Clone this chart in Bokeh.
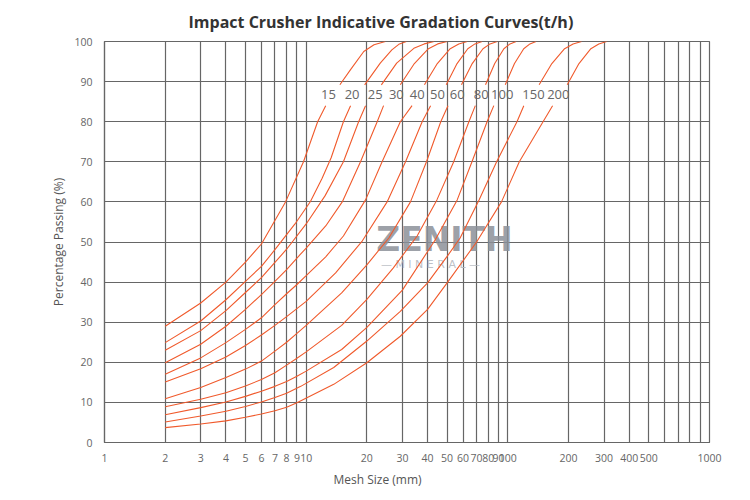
from bokeh.plotting import figure
from bokeh.models import FixedTicker, Title, Range1d, ColumnDataSource
from bokeh.embed import file_html
from bokeh.resources import INLINE
from bokeh.core.properties import value

# ---------------- data ----------------
title_text = "Impact Crusher Indicative Gradation Curves(t/h)"
x_title = "Mesh Size (mm)"
y_title = "Percentage Passing (%)"

x_ticks = [1, 2, 3, 4, 5, 6, 7, 8, 9, 10, 20, 30, 40, 50, 60, 70, 80, 90, 100,
           200, 300, 400, 500, 600, 700, 800, 900, 1000]
x_unlabeled = [600, 700, 800, 900]
y_ticks = [0, 10, 20, 30, 40, 50, 60, 70, 80, 90, 100]

# curve names (capacity, t/h) and where each name sits in the label row
curve_names = ["15", "20", "25", "30", "40", "50", "60", "80", "100", "150", "200"]
label_mm = [12.9, 16.9, 22.0, 28.0, 35.5, 44.8, 56.1, 73.8, 93.8, 134, 178]
label_level = 86.7

x_15 = [2, 3, 4, 5, 6, 7.9, 9.7, 11.4, 12.5, 14.7, 16.6, 19.3, 21.7, 24.7]
y_15 = [29.0, 34.8, 40.0, 45.0, 49.5, 60, 70, 80, 84, 89.2, 93.0, 97.5, 99.2, 100]

x_20 = [2, 3, 4, 5, 6, 7, 8.8, 10.5, 12.0, 13.3, 15.3, 16.6, 19.5, 23.3, 26.6, 28.8, 31.4]
y_20 = [24.9, 30.3, 35.6, 40.2, 43.9, 48.1, 54.5, 60.1, 65.9, 71.0, 80, 84, 89.2, 94.6, 97.9, 99.3, 100]

x_25 = [2, 3, 4, 5, 6, 7, 8, 10, 12.4, 15.3, 18.2, 19.7, 23.6, 28.1, 34.2, 38.5, 43.1]
y_25 = [23.0, 27.9, 32.9, 37.4, 41.1, 44.9, 48.2, 54.5, 61.5, 70, 80, 84, 89.2, 94.6, 98.3, 99.4, 100]

x_30 = [2, 3, 4, 5, 6, 7, 8, 9, 10, 12.5, 15.1, 18.6, 22.5, 24.2, 29.3, 34.4, 40.4, 44.9, 50]
y_30 = [19.9, 24.5, 29.0, 33.2, 36.9, 40.2, 43.1, 46.0, 48.5, 54, 60, 70, 80, 84, 89.2, 94.5, 98.2, 99.4, 100]

x_40 = [2, 3, 4, 5, 6, 7, 8, 9, 10, 12.5, 15.3, 19.7, 23.8, 29.3, 33.5, 38.6, 44.7, 51.8, 57.1, 62.9]
y_40 = [17.0, 21.1, 24.9, 28.2, 31.1, 34.4, 37.1, 39.4, 41.6, 46.3, 51.5, 60.5, 70, 80, 84, 89.2, 94.5, 98.2, 99.4, 100]

x_50 = [2, 3, 4, 5, 6, 7, 8, 10, 14, 19, 25.2, 31.1, 37.6, 41.4, 49.5, 56.0, 63.3, 68.7, 74.6]
y_50 = [15.1, 18.4, 21.3, 24.2, 26.8, 29.2, 31.4, 35.2, 42.3, 50.3, 60, 70, 80, 84, 89.2, 94.5, 98.2, 99.4, 100]

x_60 = [2, 3, 4, 5, 6, 7, 8, 9, 10, 15, 20, 25.7, 32.9, 39.5, 46.5, 50.5, 58.9, 66.6, 75.3, 81.6, 88.6]
y_60 = [10.9, 13.7, 16.2, 18.3, 20.3, 22.8, 25.0, 27.2, 29.2, 37.3, 44.3, 51, 60, 70, 80, 84, 89.2, 94.5, 98.2, 99.4, 100]

x_80 = [2, 3, 4, 5, 6, 7, 8, 9, 10, 15, 20, 27, 35.5, 44.5, 53.9, 64.1, 69, 77.5, 86.1, 95.6, 102.5, 110]
y_80 = [8.9, 10.8, 12.4, 14.1, 15.7, 17.4, 19.3, 21.0, 22.6, 29.2, 35.7, 43.5, 51.5, 60.5, 70, 80, 84, 89.2, 94.5, 98.2, 99.4, 100]

x_100 = [2, 3, 4, 5, 6, 7, 8, 9, 10, 15, 20, 30, 43.6, 56.1, 66.4, 78.9, 85.2, 97.1, 107.9, 119.9, 128.7, 138]
y_100 = [6.9, 8.7, 10.1, 11.5, 12.8, 14.0, 15.2, 16.5, 17.8, 23.2, 28.7, 38, 50.5, 60.5, 70, 80, 84, 89.2, 94.5, 98.2, 99.4, 100]

x_150 = [2, 3, 4, 5, 6, 7, 8, 9.4, 13.7, 20, 29.3, 40, 50, 58, 72, 88, 111, 120, 143, 165.3, 191.2, 210.6, 232]
y_150 = [5.1, 6.6, 7.8, 9.0, 10.1, 11.2, 12.3, 14.0, 18.7, 25.3, 32.7, 39.8, 46.4, 51, 60.5, 70, 80, 84, 89.2, 94.5, 98.2, 99.4, 100]

x_200 = [2, 3, 4, 5, 6, 7, 8, 9, 13.7, 20, 29.3, 40, 50, 70, 93, 114, 149.5, 166.7, 197, 225.3, 258.1, 282.5, 309]
y_200 = [3.7, 4.6, 5.4, 6.3, 7.1, 7.9, 8.8, 9.9, 14.5, 19.9, 26.5, 33.2, 39.8, 50, 60, 70, 80, 84, 89.2, 94.5, 98.2, 99.4, 100]

curve_x = [x_15, x_20, x_25, x_30, x_40, x_50, x_60, x_80, x_100, x_150, x_200]
curve_y = [y_15, y_20, y_25, y_30, y_40, y_50, y_60, y_80, y_100, y_150, y_200]

watermark_main = "ZENITH"
watermark_sub = "—  M  I  N  E  R  A  L  —"
watermark_x = 48.5
watermark_main_y = 50.6
watermark_sub_y = 44.5

# ---------------- styling ----------------
FONT = "Open Sans"
GRID = "#666666"
CURVE = "#f05a2c"
TXT = "#666666"
GAP_LOW, GAP_HIGH = 84.5, 89.0   # the curves are interrupted behind the label row

p = figure(width=742, height=492, x_axis_type="log",
           x_range=Range1d(1, 1000), y_range=Range1d(0, 100),
           output_backend="svg", toolbar_location=None,
           min_border_left=104, min_border_right=33,
           min_border_top=41, min_border_bottom=49)

p.background_fill_color = "white"
p.border_fill_color = "white"
p.outline_line_color = GRID
p.outline_line_width = 1.2

p.title.text = title_text
p.title.align = "left"
p.title.offset = 84
p.title.text_font = FONT
p.title.text_font_size = "16px"
p.title.text_font_style = "bold"
p.title.text_color = "#333333"
p.title.standoff = 17

# axes
p.xaxis.ticker = FixedTicker(ticks=x_ticks)
p.xaxis.major_label_overrides = {t: ("" if t in x_unlabeled else str(t)) for t in x_ticks}
p.yaxis.ticker = FixedTicker(ticks=y_ticks)
for ax in (p.xaxis, p.yaxis):
    ax.axis_line_color = GRID
    ax.axis_line_width = 1.2
    ax.major_tick_line_color = None
    ax.minor_tick_line_color = None
    ax.major_label_text_font = FONT
    ax.major_label_text_font_size = "10.5px"
    ax.major_label_text_color = TXT
p.xaxis.major_label_standoff = 5
p.yaxis.major_label_standoff = 6
p.yaxis.axis_label = y_title
p.yaxis.axis_label_text_font = FONT
p.yaxis.axis_label_text_font_size = "12px"
p.yaxis.axis_label_text_font_style = "normal"
p.yaxis.axis_label_text_color = "#555555"
p.yaxis.axis_label_standoff = 4

p.add_layout(Title(text=x_title, align="left", offset=229, text_font=FONT,
                   text_font_size="12px", text_font_style="normal",
                   text_color="#555555", standoff=9), "below")

# grid
p.xgrid.ticker = FixedTicker(ticks=x_ticks)
p.ygrid.ticker = FixedTicker(ticks=y_ticks)
for g in (p.xgrid, p.ygrid):
    g.grid_line_color = GRID
    g.grid_line_width = 1.2
    g.grid_line_alpha = 1.0

# watermark
p.text(x=[watermark_x], y=[watermark_main_y], text=[watermark_main],
       text_font=value("DejaVu Sans"), text_font_style="bold",
       text_font_size="33px", text_color="#8b9099", text_alpha=0.85,
       text_align="center", text_baseline="middle")
p.text(x=[watermark_x], y=[watermark_sub_y], text=[watermark_sub],
       text_font=value("DejaVu Sans"), text_font_size="11px",
       text_color="#b5b9bf", text_alpha=0.9,
       text_align="center", text_baseline="middle")

# curves, interrupted where they pass the label row
for xs, ys in zip(curve_x, curve_y):
    gx, gy = [], []
    for i in range(len(xs)):
        if i > 0 and ys[i - 1] <= GAP_LOW and ys[i] >= GAP_HIGH:
            gx.append(float("nan"))
            gy.append(float("nan"))
        gx.append(xs[i])
        gy.append(ys[i])
    p.line(gx, gy, line_color=CURVE, line_width=1.1)

src = ColumnDataSource(dict(x=label_mm, y=[label_level] * len(label_mm), t=curve_names))
p.text(x="x", y="y", text="t", source=src, text_font=value(FONT),
       text_font_size="13px", text_color=TXT, text_align="center",
       text_baseline="middle")

open("out.html", "w").write(file_html(p, INLINE))
